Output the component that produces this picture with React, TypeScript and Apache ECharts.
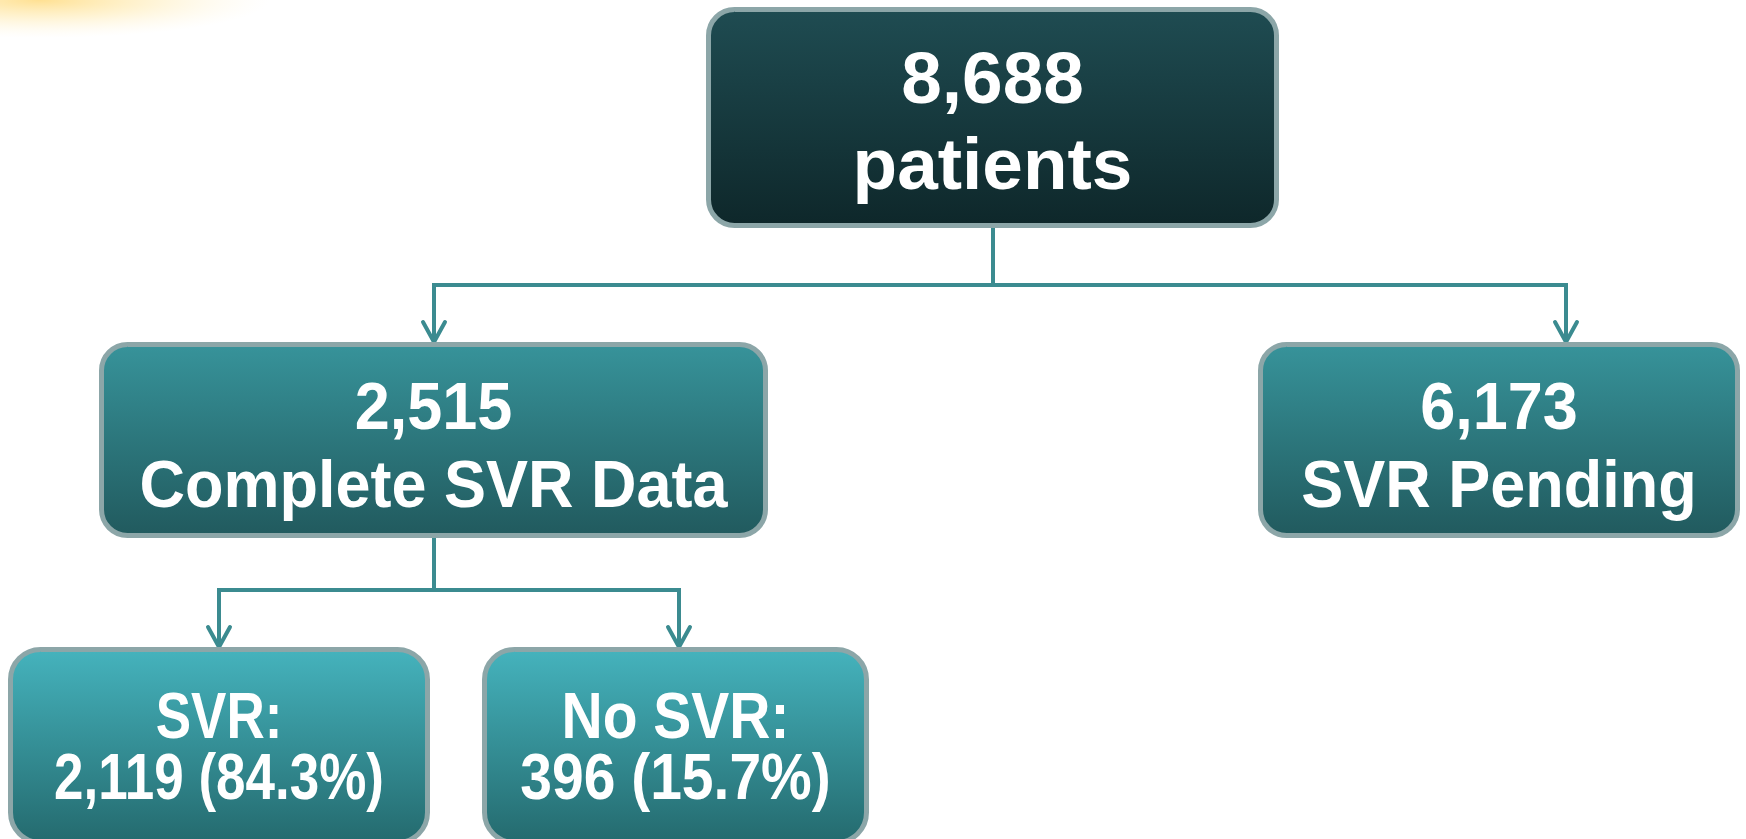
import React, { useEffect, useRef } from "react";
import * as echarts from "echarts";

// ---- Data ----
const nodeIds = ["all", "complete", "pending", "svr", "noSvr"];
const nodeCounts = [8688, 2515, 6173, 2119, 396];
const nodeLabels = ["patients", "Complete SVR Data", "SVR Pending", "SVR:", "No SVR:"];
const nodePercents = [null, null, null, 84.3, 15.7];
const edges: [string, string][] = [
  ["all", "complete"],
  ["all", "pending"],
  ["complete", "svr"],
  ["complete", "noSvr"],
];

// ---- Layout / style (not data) ----
const W = 1746;
const H = 839;
const boxes: Record<string, { x0: number; y0: number; x1: number; y1: number; r: number; c0: string; c1: string }> = {
  all: { x0: 706, y0: 7, x1: 1279, y1: 228, r: 26, c0: "#1f4c52", c1: "#0e272a" },
  complete: { x0: 99, y0: 342, x1: 768, y1: 538, r: 26, c0: "#37939a", c1: "#215a5e" },
  pending: { x0: 1258, y0: 342, x1: 1740, y1: 538, r: 26, c0: "#37939a", c1: "#215a5e" },
  svr: { x0: 8, y0: 647, x1: 430, y1: 845, r: 30, c0: "#45b3bd", c1: "#246a6e" },
  noSvr: { x0: 482, y0: 647, x1: 869, y1: 845, r: 30, c0: "#45b3bd", c1: "#246a6e" },
};
const textLayout: Record<string, { y: [number, number]; size: number; sy: number }> = {
  all: { y: [78, 164], size: 73, sy: 0.99 },
  complete: { y: [406, 484], size: 63, sy: 1.06 },
  pending: { y: [406, 484], size: 63, sy: 1.06 },
  svr: { y: [716, 777], size: 53, sy: 1.22 },
  noSvr: { y: [716, 777], size: 57, sy: 1.14 },
};
// connector anchor x positions (arrow targets) and bus y
const arrowX: Record<string, number> = { complete: 434, pending: 1566, svr: 219, noSvr: 679 };
const sourceX: Record<string, number> = { all: 993, complete: 434 };
const busY: Record<string, number> = { all: 285, complete: 590 };

const BORDER = "#8ca6a8";
const LINE = "#3b8b90";
const FONT = '"Liberation Sans", Arial, Helvetica, sans-serif';

const fmt = (n: number) => n.toLocaleString("en-US");

function nodeLines(i: number): [string, string] {
  const id = nodeIds[i];
  if (id === "svr" || id === "noSvr") {
    return [nodeLabels[i], `${fmt(nodeCounts[i])} (${nodePercents[i]!.toFixed(1)}%)`];
  }
  return [fmt(nodeCounts[i]), nodeLabels[i]];
}

function buildGraphics() {
  const els: any[] = [];
  // yellow glow top-left
  els.push({
    type: "ellipse",
    shape: { cx: 40, cy: 0, rx: 230, ry: 38 },
    style: {
      fill: new echarts.graphic.RadialGradient(0.5, 0.5, 0.5, [
        { offset: 0, color: "rgba(255,214,110,0.75)" },
        { offset: 0.5, color: "rgba(255,225,140,0.35)" },
        { offset: 1, color: "rgba(255,240,200,0)" },
      ]),
    },
    silent: true,
  });

  // connectors
  const groups: Record<string, string[]> = {};
  edges.forEach(([s, t]) => {
    (groups[s] = groups[s] || []).push(t);
  });
  Object.keys(groups).forEach((s) => {
    const sb = boxes[s];
    const sx = sourceX[s];
    const by = busY[s];
    const targets = groups[s];
    const xs = targets.map((t) => arrowX[t]);
    const lineStyle = { stroke: LINE, lineWidth: 4, fill: null, lineCap: "butt", lineJoin: "miter" };
    els.push({ type: "line", shape: { x1: sx, y1: sb.y1 - 2, x2: sx, y2: by }, style: lineStyle });
    els.push({
      type: "line",
      shape: { x1: Math.min(...xs) - 2, y1: by, x2: Math.max(...xs) + 2, y2: by },
      style: lineStyle,
    });
    targets.forEach((t) => {
      const tx = arrowX[t];
      const ty = boxes[t].y0 + 1;
      els.push({ type: "line", shape: { x1: tx, y1: by, x2: tx, y2: ty - 2 }, style: lineStyle });
      els.push({
        type: "polyline",
        shape: { points: [[tx - 11, ty - 21], [tx, ty - 1], [tx + 11, ty - 21]] },
        style: { stroke: LINE, lineWidth: 4, fill: null, lineCap: "round", lineJoin: "miter" },
      });
    });
  });

  // boxes
  nodeIds.forEach((id, i) => {
    const b = boxes[id];
    els.push({
      type: "rect",
      shape: { x: b.x0 + 2.5, y: b.y0 + 2.5, width: b.x1 - b.x0 - 5, height: b.y1 - b.y0 - 5, r: b.r },
      style: {
        fill: new echarts.graphic.LinearGradient(0, 0, 0, 1, [
          { offset: 0, color: b.c0 },
          { offset: 1, color: b.c1 },
        ]),
        stroke: BORDER,
        lineWidth: 5,
      },
    });
    const tl = textLayout[id];
    const cx = (b.x0 + b.x1) / 2;
    const lines = nodeLines(i);
    lines.forEach((txt, k) => {
      els.push({
        type: "text",
        x: cx,
        y: tl.y[k],
        scaleY: tl.sy,
        style: {
          x: 0,
          y: 0,
          text: txt,
          fill: "#ffffff",
          font: `bold ${tl.size}px ${FONT}`,
          align: "center",
          verticalAlign: "middle",
        },
      });
    });
  });
  return els;
}

export default function App() {
  const ref = useRef<HTMLDivElement>(null);
  useEffect(() => {
    document.body.style.margin = "0";
    const chart = echarts.init(ref.current!, undefined, { renderer: "svg", width: W, height: H });
    chart.setOption({
      animation: false,
      backgroundColor: "#ffffff",
      graphic: { elements: buildGraphics() },
    });
    return () => chart.dispose();
  }, []);
  return (
    <div
      ref={ref}
      style={{ position: "fixed", left: 0, top: 0, width: W, height: H, background: "#fff" }}
    />
  );
}
